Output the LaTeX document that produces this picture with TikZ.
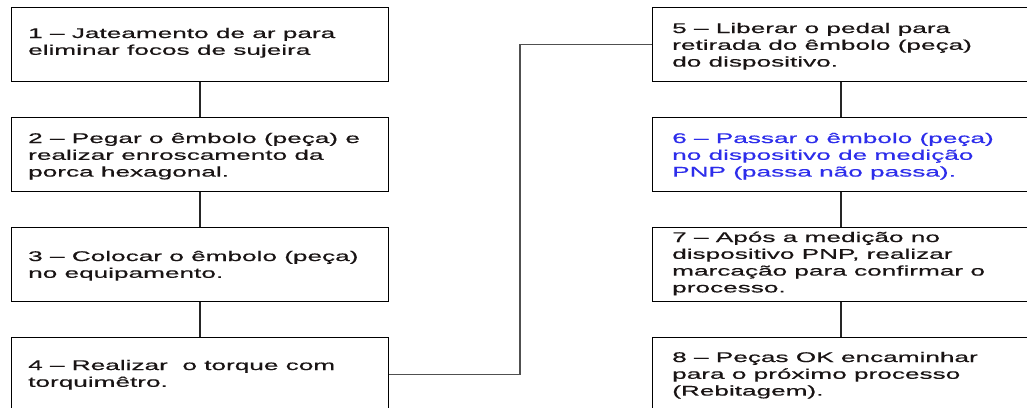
\documentclass[tikz,border=0pt]{standalone}
\usepackage{fontspec}
\setmainfont[FakeStretch=1.87,FakeBold=0.5]{Liberation Sans}
\definecolor{txtblue}{RGB}{45,45,235}
\definecolor{txtblack}{RGB}{25,20,20}
\definecolor{linegray}{RGB}{80,80,80}
\newcommand{\tlines}[1]{\begin{tabular}[t]{@{}l@{}}#1\end{tabular}}
\begin{document}
\begin{tikzpicture}[x=1pt,y=-1pt,
  stepbox/.style={draw=black,line width=1.3pt,rectangle,minimum width=377pt,minimum height=74pt,anchor=north west,inner sep=0pt,fill=white},
  steptext/.style={anchor=base west,inner sep=0pt,text=txtblack,font=\fontsize{14}{16.8}\selectfont},
  link/.style={draw=black!85,line width=1.5pt},
  sidelink/.style={draw=linegray,line width=1.2pt}]
\useasboundingbox (0,0) rectangle (1027,407);
\clip (0,0) rectangle (1027,407);
\fill[white] (0,0) rectangle (1027,407);
% left column
\node[stepbox] (b1) at (11,7) {};
\node[stepbox] (b2) at (11,117) {};
\node[stepbox] (b3) at (11,227) {};
\node[stepbox] (b4) at (11,337) {};
% right column
\node[stepbox] (b5) at (652,7) {};
\node[stepbox] (b6) at (652,117) {};
\node[stepbox] (b7) at (652,227) {};
\node[stepbox] (b8) at (652,337) {};
% connectors
\draw[link] (b1.south) -- (b2.north);
\draw[link] (b2.south) -- (b3.north);
\draw[link] (b3.south) -- (b4.north);
\draw[link] (b5.south) -- (b6.north);
\draw[link] (b6.south) -- (b7.north);
\draw[link] (b7.south) -- (b8.north);
\coordinate (bend) at (520,0);
\draw[sidelink] (b4.east) -- (b4.east -| bend) -- (b5.west -| bend) -- (b5.west);
% texts
\node[steptext] (t1) at (28,38) {\tlines{1 – Jateamento de ar para\\eliminar focos de sujeira}};
\node[steptext] (t2) at (28,143) {\tlines{2 – Pegar o êmbolo (peça) e\\realizar enroscamento da\\porca hexagonal.}};
\node[steptext] (t3) at (28,261) {\tlines{3 – Colocar o êmbolo (peça)\\no equipamento.}};
\node[steptext] (t4) at (28,370) {\tlines{4 – Realizar\ \ o torque com\\torquimêtro.}};
\node[steptext] (t5) at (672,33) {\tlines{5 – Liberar o pedal para\\retirada do êmbolo (peça)\\do dispositivo.}};
\node[steptext,text=txtblue] (t6) at (672,143) {\tlines{6 – Passar o êmbolo (peça)\\no dispositivo de medição\\PNP (passa não passa).}};
\node[steptext] (t7) at (672,242) {\tlines{7 – Após a medição no\\dispositivo PNP, realizar\\marcação para confirmar o\\processo.}};
\node[steptext] (t8) at (672,362) {\tlines{8 – Peças OK encaminhar\\para o próximo processo\\(Rebitagem).}};
\end{tikzpicture}
\end{document}
